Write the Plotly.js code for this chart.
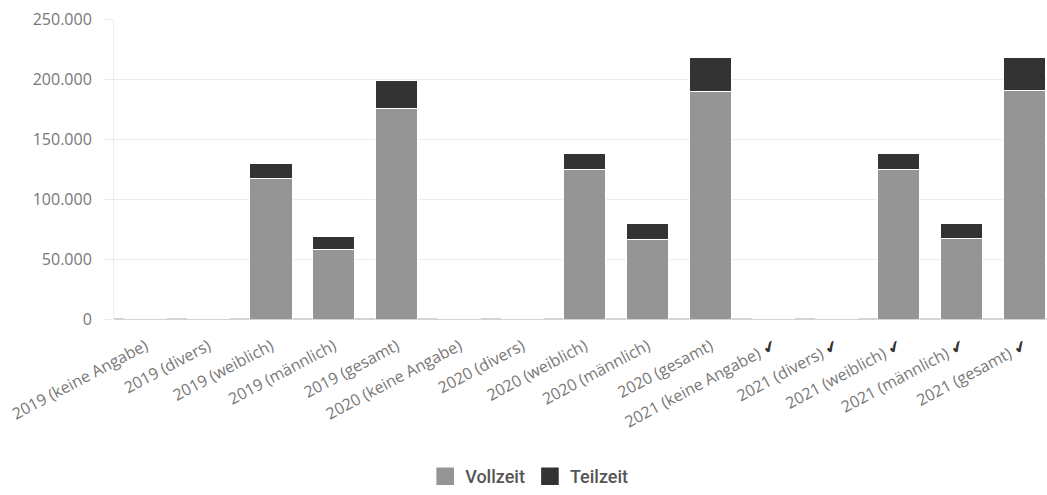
<!DOCTYPE html>
<html>
<head>
<meta charset="utf-8">
<script src="https://cdn.plot.ly/plotly-3.0.1.min.js"></script>
<style>
  html, body { margin: 0; padding: 0; background: #fff; }
  #chart { width: 1047px; height: 495px; }
</style>
</head>
<body>
<div id="chart"></div>
<script>
// Beschäftigte nach Geschlecht, Voll- und Teilzeit
const categories = [
  "2019 (keine Angabe)", "2019 (divers)", "2019 (weiblich)", "2019 (männlich)", "2019 (gesamt)",
  "2020 (keine Angabe)", "2020 (divers)", "2020 (weiblich)", "2020 (männlich)", "2020 (gesamt)",
  "2021 (keine Angabe)", "2021 (divers)", "2021 (weiblich)", "2021 (männlich)", "2021 (gesamt)"
];
// categories marked as checked in the axis labels
const checked = [false, false, false, false, false, false, false, false, false, false,
                 true, true, true, true, true];

const vollzeit = [150, 100, 117500, 58000, 175500, 150, 100, 124500, 66000, 190000, 200, 100, 124500, 67000, 190500];
const teilzeit = [50, 20, 11800, 10800, 23500, 50, 20, 13700, 13200, 28000, 60, 20, 13600, 12300, 27300];

const yTicks = [0, 50000, 100000, 150000, 200000, 250000];

const tickText = categories.map((c, i) =>
  checked[i] ? c + ' <span style="color:#333">✔</span>' : c);

const traces = [
  {
    type: 'bar', name: 'Vollzeit', x: categories, y: vollzeit,
    marker: { color: '#959595', line: { color: '#ffffff', width: 1 } },
    hoverinfo: 'x+y+name'
  },
  {
    type: 'bar', name: 'Teilzeit', x: categories, y: teilzeit,
    marker: { color: '#333333', line: { color: '#ffffff', width: 1 } },
    hoverinfo: 'x+y+name'
  }
];

const layout = {
  width: 1047, height: 495,
  barmode: 'stack',
  bargap: 0.33,
  separators: ',.',
  paper_bgcolor: '#ffffff',
  plot_bgcolor: '#ffffff',
  margin: { l: 114, r: 0, t: 19, b: 172 },
  font: { family: 'Open Sans, Roboto, sans-serif', color: '#777777', size: 15 },
  showlegend: true,
  legend: {
    orientation: 'h', traceorder: 'normal',
    x: 0.445, y: -0.526, xanchor: 'center', yanchor: 'middle',
    font: { size: 18, color: '#555555', family: 'Roboto, Open Sans, sans-serif', weight: 500 },
    itemwidth: 30
  },
  xaxis: {
    type: 'category',
    range: [-0.5, 14.36],
    tickmode: 'array',
    tickvals: categories,
    ticktext: tickText,
    tickangle: -28,
    showgrid: false,
    showline: false,
    ticks: '',
    ticklabelstandoff: 14,
    tickfont: { size: 16, color: '#777777' }
  },
  yaxis: {
    range: [0, 250000],
    tickvals: yTicks,
    tickformat: ',d',
    showgrid: true,
    gridcolor: '#ececec',
    gridwidth: 1,
    zeroline: true,
    zerolinecolor: '#d4d4d4',
    zerolinewidth: 2,
    showline: true,
    linecolor: '#eeeeee',
    ticks: 'outside',
    ticklen: 10,
    tickcolor: '#ececec',
    ticklabelstandoff: 8,
    tickfont: { size: 16, color: '#777777' }
  }
};

Plotly.newPlot('chart', traces, layout, { displayModeBar: false, staticPlot: true }).then(gd => {
  // enlarge the legend swatches
  gd.querySelectorAll('.legendpoints path').forEach(p => {
    const t = p.getAttribute('transform') || '';
    p.setAttribute('transform', t + ' scale(1.6)');
  });
});
</script>
</body>
</html>
